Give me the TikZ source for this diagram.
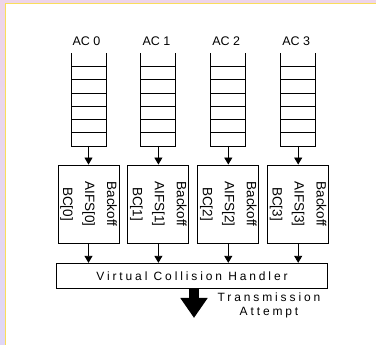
\documentclass[tikz,border=0pt]{standalone}
\usepackage{fontspec}
\setmainfont{Liberation Sans}
\newfontfamily\widefont[LetterSpace=24]{Liberation Sans}
\usetikzlibrary{arrows.meta}

\definecolor{rimpink}{RGB}{238,213,233}
\definecolor{rimlilac}{RGB}{223,215,246}
\definecolor{rimyellow}{RGB}{250,222,90}

\begin{document}
\begin{tikzpicture}[%
        x = 1pt, y = 1pt,
        > = {Triangle[length = 7pt, width = 8pt]},
        line width = 0.9pt,
        aclabel/.style = {
            anchor = base, inner sep = 0pt,
            font = \fontsize{12.5}{14}\selectfont
        },
        acbox/.style = {
            draw, rotate = -90, align = center, inner sep = 0pt,
            minimum width = 78pt, minimum height = 61pt,
            font = \fontsize{13.5}{22}\selectfont
        },
        widetext/.style = {
            inner sep = 0pt,
            font = \fontsize{12}{14}\selectfont\widefont
        }
    ]

        % Frame round the page.
        \useasboundingbox (0, 0) rectangle (376, 345);
        \fill[white] (0, 0) rectangle (376, 345);
        \shade[top color = rimpink, bottom color = rimlilac] (0, 0) rectangle (5.3, 345);
        \fill[rimpink] (5.3, 341.6) rectangle (376, 345);
        \draw[rimyellow, line width = 1pt] (5.8, 0) |- (376, 341.2);

        % Command for one access category: its queue, its label and the
        % coordinate below the queue.
        \newcommand*{\acqueue}[3]{%
            \coordinate (q#1) at (#2, 199);
            \draw (q#1) ++(-17.5, 92.7) -- ++(0, -92.7) -- ++(35, 0) -- ++(0, 92.7);
            \foreach \k in {1, ..., 6}
                \draw ([xshift = -17.5pt, yshift = \k*13.23pt]q#1) -- ++(35, 0);
            \node[aclabel] (l#1) at ([xshift = -2pt, yshift = 100pt]q#1) {#3};
        }

        \acqueue{0}{88.5}{AC 0};
        \acqueue{1}{158.4}{AC 1};
        \acqueue{2}{228.3}{AC 2};
        \acqueue{3}{298.2}{AC 3};

        \node[acbox] (b0) at (88.5, 141) {Backoff\\AIFS[0]\\BC[0]};
        \node[acbox] (b1) at (158.4, 141) {Backoff\\AIFS[1]\\BC[1]};
        \node[acbox] (b2) at (228.3, 141) {Backoff\\AIFS[2]\\BC[2]};
        \node[acbox] (b3) at (298.2, 141) {Backoff\\AIFS[3]\\BC[3]};

        \node[draw, widetext, minimum width = 270.5pt, minimum height = 25.4pt]
            (vch) at (192, 69) {Virtual Collision Handler};

        \begin{scope}[->]
            \draw (q0) -- (b0);
            \draw (q1) -- (b1);
            \draw (q2) -- (b2);
            \draw (q3) -- (b3);
            \draw (b0) -- (b0 |- vch.north);
            \draw (b1) -- (b1 |- vch.north);
            \draw (b2) -- (b2 |- vch.north);
            \draw (b3) -- (b3 |- vch.north);
        \end{scope}

        % Transmission attempt leaving the handler.
        \coordinate (tip) at (194, 27);
        \draw[line width = 10pt, -{Triangle[length = 20pt, width = 26pt]}]
            (vch.south -| tip) -- (tip);
        \node[widetext, align = center] (att) at (269, 39.4) {Transmission\\Attempt};

        \let\acqueue\undefined
    \end{tikzpicture}
\end{document}
